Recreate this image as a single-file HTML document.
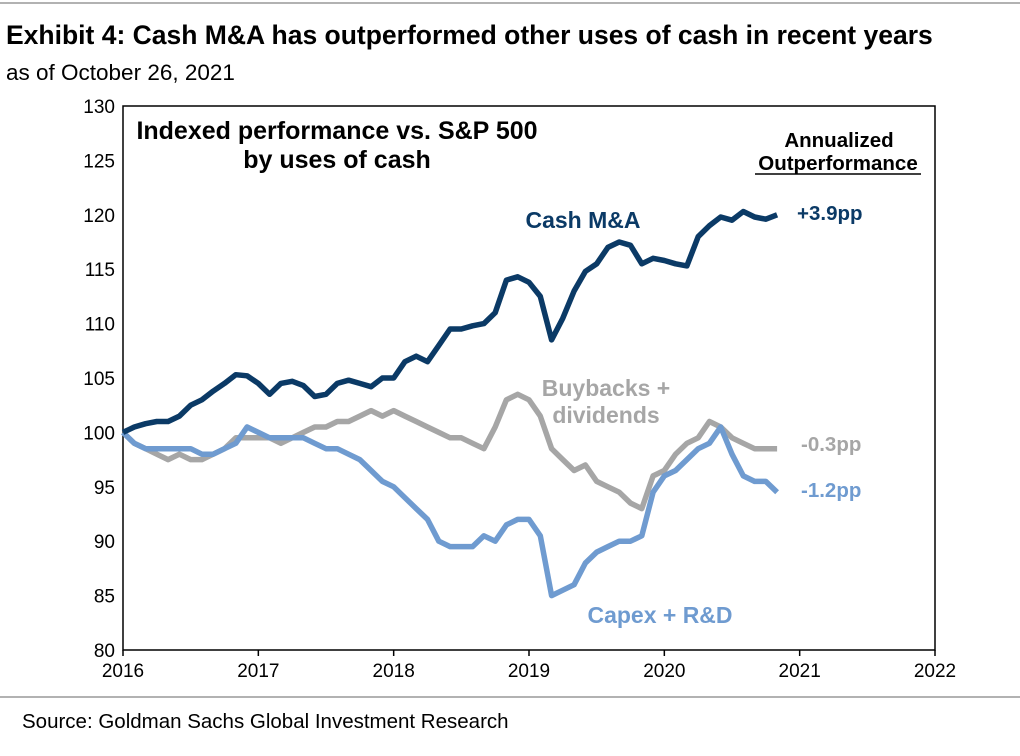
<!DOCTYPE html>
<html><head><meta charset="utf-8">
<style>
body{margin:0;background:#fff;font-family:"Liberation Sans",Arial,sans-serif;}
#wrap{position:relative;width:1020px;height:756px;overflow:hidden;}
</style></head>
<body>
<div id="wrap">
<svg id="chart" width="1020" height="756" font-family="Liberation Sans, Arial, sans-serif">
<line x1="0" y1="3" x2="1020" y2="3" stroke="#999" stroke-width="1.5"/>
<text x="6" y="44" font-size="26.5" font-weight="bold" fill="#000">Exhibit 4: Cash M&amp;A has outperformed other uses of cash in recent years</text>
<text x="6" y="80" font-size="22.5" fill="#000">as of October 26, 2021</text>
<rect x="123" y="106" width="812" height="544" fill="none" stroke="#000" stroke-width="1.5"/>
<text x="337" y="139" font-size="25" font-weight="bold" text-anchor="middle">Indexed performance vs. S&amp;P 500</text>
<text x="337" y="168" font-size="25" font-weight="bold" text-anchor="middle">by uses of cash</text>
<text x="839" y="147" font-size="20.5" font-weight="bold" text-anchor="middle">Annualized</text>
<text x="838" y="170" font-size="20.5" font-weight="bold" text-anchor="middle">Outperformance</text>
<line x1="755" y1="174" x2="921" y2="174" stroke="#000" stroke-width="1.5"/>
<g id="axes"></g>
<g id="series"></g>
<text x="583" y="228" font-size="23" font-weight="bold" fill="#0b3a66" text-anchor="middle">Cash M&amp;A</text>
<text x="606" y="396" font-size="23" font-weight="bold" fill="#a6a6a6" text-anchor="middle">Buybacks +</text>
<text x="606" y="423" font-size="23" font-weight="bold" fill="#a6a6a6" text-anchor="middle">dividends</text>
<text x="660" y="623" font-size="23" font-weight="bold" fill="#6f9bd0" text-anchor="middle">Capex + R&amp;D</text>
<text x="797" y="220" font-size="20.5" font-weight="bold" fill="#0b3a66">+3.9pp</text>
<text x="801" y="451" font-size="20.5" font-weight="bold" fill="#a6a6a6">-0.3pp</text>
<text x="801" y="497" font-size="20.5" font-weight="bold" fill="#6f9bd0">-1.2pp</text>
<line x1="0" y1="697" x2="1020" y2="697" stroke="#999" stroke-width="1.5"/>
<text x="22" y="728" font-size="20.5" fill="#000">Source: Goldman Sachs Global Investment Research</text>
</svg>
</div>
<script>
const yTicks=[80,85,90,95,100,105,110,115,120,125,130];
const xYears=[2016,2017,2018,2019,2020,2021,2022];
const cashMA=[100,100.5,100.8,101,101,101.5,102.5,103,103.8,104.5,105.3,105.2,104.5,103.5,104.5,104.7,104.3,103.3,103.5,104.5,104.8,104.5,104.2,105,105,106.5,107,106.5,108,109.5,109.5,109.8,110,111,114,114.3,113.8,112.5,108.5,110.5,113,114.8,115.5,117,117.5,117.2,115.5,116,115.8,115.5,115.3,118,119,119.8,119.5,120.3,119.8,119.6,120];
const buybacks=[100,99,98.5,98,97.5,98,97.5,97.5,98,98.5,99.5,99.5,99.5,99.5,99,99.5,100,100.5,100.5,101,101,101.5,102,101.5,102,101.5,101,100.5,100,99.5,99.5,99,98.5,100.5,103,103.5,103,101.5,98.5,97.5,96.5,97,95.5,95,94.5,93.5,93,96,96.5,98,99,99.5,101,100.5,99.5,99,98.5,98.5,98.5];
const capex=[100,99,98.5,98.5,98.5,98.5,98.5,98,98,98.5,99,100.5,100,99.5,99.5,99.5,99.5,99,98.5,98.5,98,97.5,96.5,95.5,95,94,93,92,90,89.5,89.5,89.5,90.5,90,91.5,92,92,90.5,85,85.5,86,88,89,89.5,90,90,90.5,94.5,96,96.5,97.5,98.5,99,100.5,98,96,95.5,95.5,94.5];
const startYear=2016, stepYears=1/12;
const X0=123,X1=935,Y0=650,Y1=106;
const xs=y=>X0+(y-2016)/(2022-2016)*(X1-X0);
const ys=v=>Y0-(v-80)/(130-80)*(Y0-Y1);
const NS='http://www.w3.org/2000/svg';
const axes=document.getElementById('axes');
yTicks.forEach(t=>{
 const el=document.createElementNS(NS,'text');
 el.setAttribute('x',X0-8);el.setAttribute('y',ys(t)+7);
 el.setAttribute('font-size','19');el.setAttribute('text-anchor','end');
 el.textContent=t;
 
 
 axes.appendChild(el);
});
xYears.forEach(t=>{
 const tk=document.createElementNS(NS,'line');
 tk.setAttribute('x1',xs(t));tk.setAttribute('x2',xs(t));tk.setAttribute('y1',Y0);tk.setAttribute('y2',Y0+6);
 tk.setAttribute('stroke','#000');tk.setAttribute('stroke-width','1.5');
 
 
 axes.appendChild(tk);
 const el=document.createElementNS(NS,'text');
 el.setAttribute('x',xs(t));el.setAttribute('y',Y0+27);
 el.setAttribute('font-size','19');el.setAttribute('text-anchor','middle');
 el.textContent=t;
 
 
 axes.appendChild(el);
});
const series=document.getElementById('series');
function draw(vals,color,name){
 const d=vals.map((v,i)=>(i?'L':'M')+xs(startYear+i*stepYears).toFixed(1)+','+ys(v).toFixed(1)).join(' ');
 const p=document.createElementNS(NS,'path');
 p.setAttribute('d',d);p.setAttribute('fill','none');p.setAttribute('stroke',color);
 p.setAttribute('stroke-width','5.5');p.setAttribute('stroke-linejoin','round');
 
 
 series.appendChild(p);
}
draw(buybacks,'#a6a6a6','buybacks-line');
draw(capex,'#6f9bd0','capex-line');
draw(cashMA,'#0b3a66','cash-ma-line');
</script>
</body></html>
